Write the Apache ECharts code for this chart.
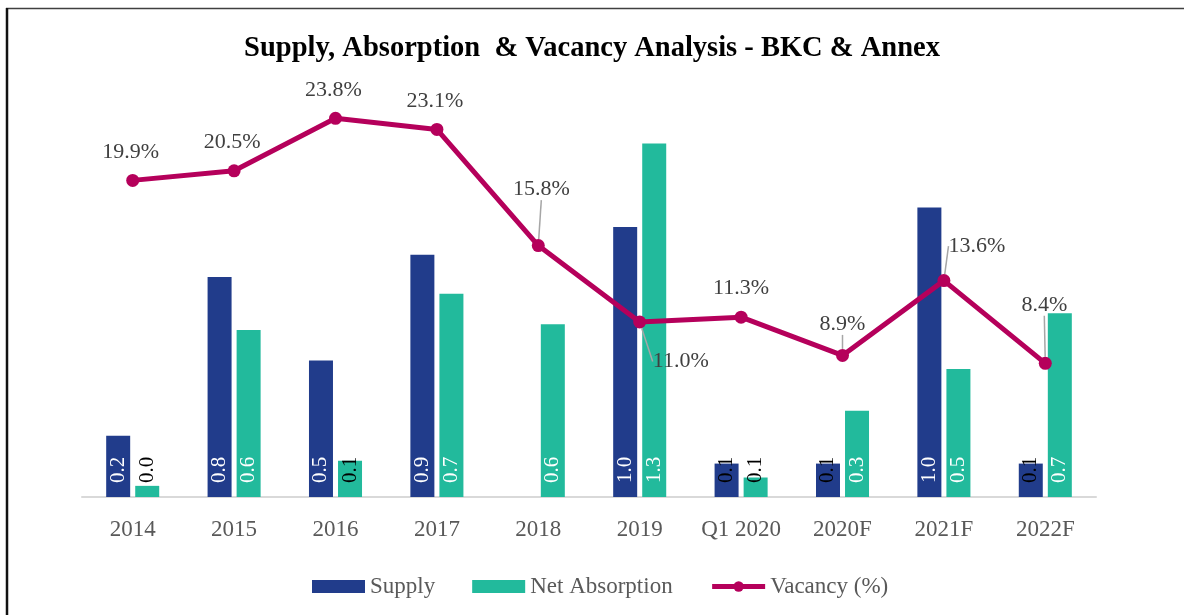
<!DOCTYPE html>
<html>
<head>
<meta charset="utf-8">
<title>Supply, Absorption & Vacancy Analysis - BKC & Annex</title>
<script src="https://cdn.jsdelivr.net/npm/echarts@6/dist/echarts.min.js"></script>
<style>
  html, body { margin: 0; padding: 0; background: #ffffff; }
  #chart { width: 1184px; height: 615px; }
</style>
</head>
<body>
<div id="chart"></div>
<script>
// Periods on the category axis
const categories = ['2014', '2015', '2016', '2017', '2018', '2019', 'Q1 2020', '2020F', '2021F', '2022F'];
// Office supply (mn sq ft); no new supply in 2018
const supply = [0.22, 0.79, 0.49, 0.87, null, 0.97, 0.12, 0.12, 1.04, 0.12];
// Net absorption (mn sq ft)
const netAbsorption = [0.04, 0.60, 0.13, 0.73, 0.62, 1.27, 0.07, 0.31, 0.46, 0.66];
// Vacancy rate (%)
const vacancy = [19.9, 20.5, 23.8, 23.1, 15.8, 11.0, 11.3, 8.9, 13.6, 8.4];

// Label nudges for the vacancy labels (pixels) and which ones get a guide line
const vacancyLabelShift = [[-2, 0], [-2, 0], [-2, 0], [-2, 0], [3, -28], [41, 68], [0, 0], [0, -3], [33, -6], [-1, -30]];
const vacancyGuide = [false, false, false, false, true, true, false, true, true, true];

const SERIF = "'Times New Roman', 'Liberation Serif', 'DejaVu Serif', serif";
const C_SUPPLY = '#213C8B';
const C_NET = '#22BA9C';
const C_VAC = '#B5005B';

function barData(values) {
  return values.map(v => v == null ? null : {
    value: v,
    label: { color: v < 0.15 ? '#000000' : '#ffffff' }
  });
}

const barLabel = {
  show: true,
  position: 'insideBottom',
  rotate: 90,
  align: 'left',
  verticalAlign: 'middle',
  distance: 14,
  fontFamily: SERIF,
  fontSize: 21,
  formatter: p => p.value.toFixed(1)
};

const chart = echarts.init(document.getElementById('chart'), null, { renderer: 'canvas' });

chart.setOption({
  backgroundColor: '#ffffff',
  animation: false,
  title: {
    text: 'Supply, Absorption  & Vacancy Analysis - BKC & Annex',
    left: 'center',
    top: 29,
    textStyle: { fontFamily: SERIF, fontSize: 28.5, fontWeight: 'bold', color: '#000000' }
  },
  legend: {
    bottom: 12,
    left: 307,
    itemWidth: 53,
    itemHeight: 13,
    itemGap: 37,
    textStyle: { fontFamily: SERIF, fontSize: 23, color: '#595959' },
    data: [
      { name: 'Supply', icon: 'rect' },
      { name: 'Net Absorption', icon: 'rect' },
      { name: 'Vacancy (%)', lineStyle: { width: 5 } }
    ]
  },
  grid: { left: 82, right: 88, top: 51.5, bottom: 118, containLabel: false },
  xAxis: {
    type: 'category',
    data: categories,
    boundaryGap: true,
    axisLine: { lineStyle: { color: '#D9D9D9', width: 2 } },
    axisTick: { show: false },
    axisLabel: { interval: 0, fontFamily: SERIF, fontSize: 23, color: '#595959', margin: 21 }
  },
  yAxis: [
    { type: 'value', min: 0, max: 1.6, show: false, splitLine: { show: false } },
    { type: 'value', min: 0, max: 28, show: false, splitLine: { show: false } }
  ],
  graphic: [
    { type: 'line', shape: { x1: 6, y1: 8.5, x2: 1184, y2: 8.5 }, style: { stroke: '#404040', lineWidth: 1.5 }, z: 100 },
    { type: 'line', shape: { x1: 7, y1: 8, x2: 7, y2: 615 }, style: { stroke: '#111111', lineWidth: 2.5 }, z: 100 }
  ],
  series: [
    {
      name: 'Supply',
      type: 'bar',
      yAxisIndex: 0,
      data: barData(supply),
      barWidth: 24,
      barGap: '21%',
      itemStyle: { color: C_SUPPLY },
      label: barLabel,
      z: 2
    },
    {
      name: 'Net Absorption',
      type: 'bar',
      yAxisIndex: 0,
      data: barData(netAbsorption),
      barWidth: 24,
      itemStyle: { color: C_NET },
      label: barLabel,
      z: 2
    },
    {
      name: 'Vacancy (%)',
      type: 'line',
      yAxisIndex: 1,
      data: vacancy.map((v, i) => ({
        value: v,
        labelLine: { show: vacancyGuide[i] }
      })),
      symbol: 'circle',
      symbolSize: 13,
      itemStyle: { color: C_VAC },
      lineStyle: { color: C_VAC, width: 5 },
      label: {
        show: true,
        position: 'top',
        distance: 11,
        fontFamily: SERIF,
        fontSize: 22,
        color: '#404040',
        formatter: p => p.value.toFixed(1) + '%'
      },
      labelLine: {
        show: false,
        lineStyle: { color: '#A6A6A6', width: 1.5 }
      },
      labelLayout: p => ({ dx: vacancyLabelShift[p.dataIndex][0], dy: vacancyLabelShift[p.dataIndex][1] }),
      z: 5
    }
  ]
});
</script>
</body>
</html>
